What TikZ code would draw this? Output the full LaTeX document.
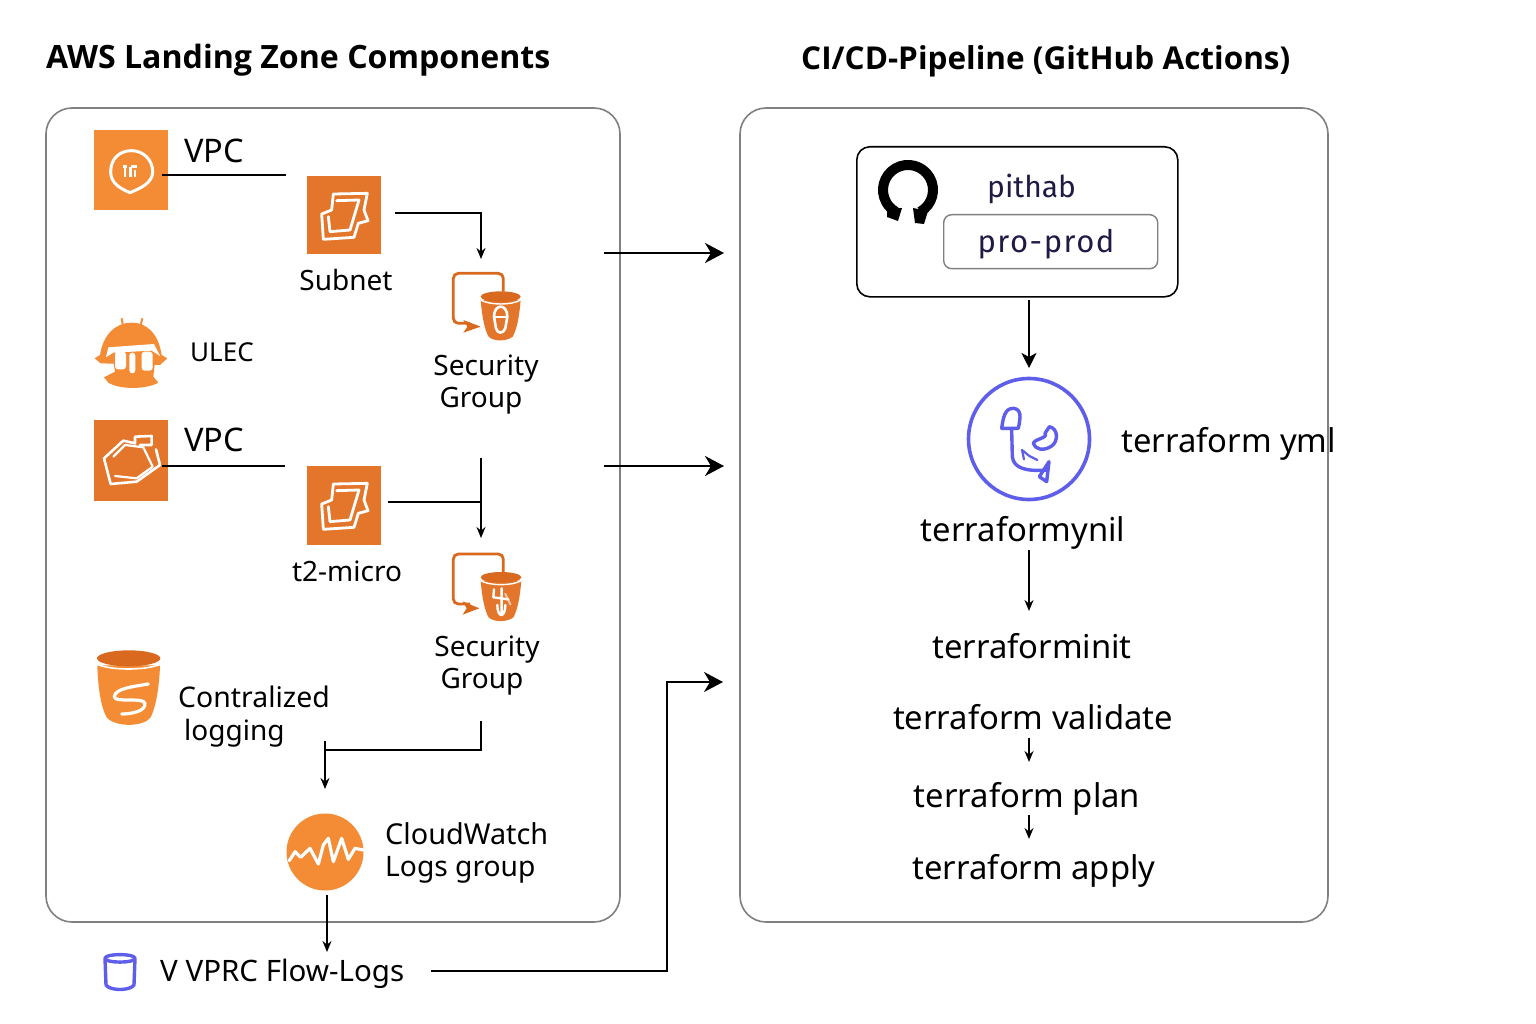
\documentclass[tikz,border=0pt]{standalone}
\usepackage{fontspec}
\setmainfont{Noto Sans}
\newfontfamily\techfont{Fira Sans}
\newfontfamily\headfont{Open Sans}
\usetikzlibrary{arrows.meta}
\definecolor{awsor}{HTML}{F48C35}
\definecolor{awsdk}{HTML}{E4762B}
\definecolor{awsrim}{HTML}{D9691F}
\definecolor{panelgray}{HTML}{808080}
\definecolor{vio}{HTML}{5E5EEB}
\definecolor{navy}{HTML}{1F1B45}
\tikzset{
  x=1pt,y=-1pt,
  panel/.style={draw=panelgray,line width=1.6pt,rounded corners=26pt},
  label/.style={font=\fontsize{28}{32}\selectfont,inner sep=0pt,align=left},
  tflabel/.style={font=\fontsize{32.8}{38}\selectfont,inner sep=0pt},
  heading/.style={font=\headfont\bfseries\fontsize{31.5}{36}\selectfont,inner sep=0pt,anchor=base west},
  thin conn/.style={line width=1.3pt,black},
  arrow conn/.style={line width=1.7pt,black,-{Stealth[length=11pt,width=9pt]}},
  big conn/.style={line width=2.4pt,black,-{Stealth[length=19pt,width=20pt,inset=6pt]}},
  sq/.style={inner sep=0pt,outer sep=0pt,anchor=north west,minimum width=74pt},
  glyph/.style={draw=white,line width=3pt,line join=round,line cap=round},
  vline/.style={draw=vio,line width=3.4pt,line join=round,line cap=round},
  zoomed/.style={shift={#1},scale=1/3},
}
\begin{document}
\begin{tikzpicture}
\useasboundingbox (0,0) rectangle (1536,1024);
\fill[white] (0,0) rectangle (1536,1024);

% headings
\node[heading,font=\headfont\bfseries\fontsize{32.1}{36}\selectfont] (t1) at (46,69) {AWS Landing Zone Components};
\node[heading,font=\headfont\bfseries\fontsize{31.5}{36}\selectfont] (t2) at (801,70) {CI/CD-Pipeline (GitHub Actions)};

% panels
\draw[panel] (46,108) rectangle (620,922);
\draw[panel] (740,108) rectangle (1328,922);

% --- VPC 1
\node[sq,fill=awsor,minimum height=80pt] (vpca) at (94,130) {};
\begin{scope}[zoomed={(80,120)}]
  \draw[glyph] (150,218) .. controls (120,205) and (92,190) .. (92,155) .. controls (92,115) and (120,92) .. (155,92) .. controls (190,92) and (218,120) .. (218,155) .. controls (218,190) and (180,205) .. (150,218) -- cycle;
  \draw[white,line width=2.5pt] (128,140) -- (142,140) (135,140) -- (135,172) (152,140) -- (152,172) (152,140)--(170,140) (165,150)--(165,172);
\end{scope}
\node[label,anchor=base west,font=\fontsize{32.5}{36}\selectfont] (vpcat) at (184,162.5) {VPC};
\coordinate (vpcaend) at (286,175);
\coordinate (vpcastart) at (162,175);

% --- Subnet
\node[sq,fill=awsdk,minimum height=78pt] (subnet) at (307,176) {};
\begin{scope}[zoomed={(290,160)}]
  \draw[glyph,line width=2.8pt] (130,102) -- (232,100) -- (222,150) -- (234,182) -- (205,190) -- (192,232) -- (100,238) -- (95,162) -- (125,150) -- cycle;
  \draw[glyph,line width=2.8pt] (140,122) -- (207,120) -- (180,210) -- (120,215) -- (115,170);
\end{scope}
\node[label] (subnett) at (346,280) {Subnet};
\coordinate (subs) at (395,213);
\coordinate (sube) at (481,259);

% --- Security group 1
\begin{scope}[zoomed={(290,160)}]
  \draw[awsrim,line width=2.8pt,rounded corners=5pt] (640,395) -- (640,340) -- (490,340) -- (490,490) -- (540,490);
  \fill[awsrim] (520,480) -- (572,500) -- (520,518) -- (532,500) -- cycle;
  \fill[awsdk] (572,420) -- (692,420) .. controls (688,470) and (680,510) .. (668,530) .. controls (650,545) and (610,545) .. (596,530) .. controls (584,510) and (576,470) .. (572,420) -- cycle;
  \draw[white,line width=1.4pt] (572,420) .. controls (600,436) and (665,436) .. (692,420);
  \fill[awsrim] (632,410) ellipse [x radius=60,y radius=16];
  \draw[glyph,line width=2.6pt] (612,470) .. controls (612,430) and (652,430) .. (652,470) -- (646,505) .. controls (640,522) and (622,522) .. (618,505) -- cycle;
  \draw[white,line width=2pt] (614,470) -- (650,470);
\end{scope}
\node[label,align=center,font=\fontsize{28}{32}\selectfont] (sgat) at (486,384.5) {Security\\\hspace*{-10pt}Group};

% --- ULEC (helmet)
\begin{scope}[zoomed={(80,120)}]
  \draw[awsor,line width=2pt] (125,595) -- (130,625) (187,595) -- (180,625);
  \fill[awsor] (60,705) .. controls (70,640) and (110,608) .. (155,608) .. controls (200,608) and (235,640) .. (245,705) -- (262,715) -- (240,735) -- (62,730) -- (44,715) -- cycle;
  \fill[awsor] (100,725) -- (225,725) -- (220,770) -- (235,788) .. controls (200,808) and (120,810) .. (85,788) -- (72,772) -- (105,755) -- cycle;
  \fill[white] (85,682) -- (222,672) -- (240,708) -- (215,692) -- (100,698) -- (78,712) -- cycle;
  \fill[white,rounded corners=3pt] (105,695) rectangle (138,748) (148,698) rectangle (166,760) (185,695) rectangle (218,752);
  \fill[awsor] (172,738) circle[radius=5];
\end{scope}
\node[label,anchor=base west,font=\fontsize{26}{30}\selectfont] (ulec) at (190,361) {ULEC};

% --- VPC 2
\node[sq,fill=awsdk,minimum height=81pt] (vpcb) at (94,420) {};
\begin{scope}[zoomed={(80,410)}]
  \draw[glyph,line width=2.6pt] (72,145) -- (130,92) -- (165,100) -- (165,80) -- (215,78) -- (215,105) -- (180,105);
  \draw[glyph,line width=2.6pt] (72,145) -- (92,222) -- (170,215) -- (240,165) -- (228,118);
  \draw[glyph,line width=2.2pt] (100,140) -- (135,105) -- (190,112) -- (218,170) -- (170,205) -- (105,198);
\end{scope}
\node[label,anchor=base west,font=\fontsize{32.5}{36}\selectfont] (vpcbt) at (184,451.5) {VPC};
\coordinate (vpcbend) at (285,466);
\coordinate (vpcbstart) at (162,466);

% --- t2-micro
\node[sq,fill=awsdk,minimum height=79pt] (t2m) at (307,466) {};
\begin{scope}[zoomed={(290,450)}]
  \draw[glyph,line width=2.8pt] (130,102) -- (232,100) -- (222,150) -- (234,182) -- (205,190) -- (192,232) -- (100,238) -- (95,162) -- (125,150) -- cycle;
  \draw[glyph,line width=2.8pt] (140,122) -- (207,120) -- (180,210) -- (120,215) -- (115,170);
\end{scope}
\node[label] (t2t) at (347,571) {t2-micro};
\coordinate (t2s) at (388,502);
\coordinate (t2e) at (481,502);
\coordinate (vs) at (481,458);
\coordinate (ve) at (481,538);

% --- Security group 2
\begin{scope}[zoomed={(440,540)}]
  \draw[awsrim,line width=2.8pt,rounded corners=5pt] (190,100) -- (190,42) -- (40,42) -- (40,192) -- (90,192);
  \fill[awsrim] (68,184) -- (118,205) -- (68,224) -- (80,205) -- cycle;
  \fill[awsdk] (122,122) -- (244,122) .. controls (240,172) and (232,212) .. (220,232) .. controls (202,247) and (160,247) .. (146,232) .. controls (134,212) and (126,172) .. (122,122) -- cycle;
  \draw[white,line width=1.4pt] (122,122) .. controls (150,138) and (215,138) .. (244,122);
  \fill[awsrim] (183,112) ellipse [x radius=61,y radius=16];
  \draw[glyph,line width=2.4pt] (162,148) -- (160,172) -- (205,178) (185,145) -- (185,225) (172,195) .. controls (172,235) and (196,235) .. (196,195);
  \draw[white,line width=2pt,opacity=.6] (195,160) -- (212,195);
\end{scope}
\node[label,align=center,font=\fontsize{28}{32}\selectfont] (sgbt) at (487,665.5) {Security\\\hspace*{-10pt}Group};

% --- Centralized logging bucket
\begin{scope}[zoomed={(80,640)}]
  \fill[awsor] (52,76) -- (240,76) .. controls (238,140) and (228,200) .. (212,232) .. controls (190,262) and (105,262) .. (80,232) .. controls (62,200) and (54,140) .. (52,76) -- cycle;
  \draw[white,line width=1.6pt] (50,72) .. controls (90,92) and (200,92) .. (242,72);
  \fill[awsrim] (146,55) ellipse [x radius=95,y radius=24];
  \draw[glyph,line width=3.2pt] (205,132) .. controls (160,140) and (105,145) .. (103,170) .. controls (103,190) and (190,170) .. (195,190) .. controls (198,215) and (150,222) .. (125,222);
\end{scope}
\node[label,anchor=base west,font=\fontsize{28.4}{32}\selectfont] (logging1) at (178,707) {Contralized};
\node[label,anchor=base west] (logging2) at (184,740) {logging};
\coordinate (sgbs) at (481,721);
\coordinate (lgcorner) at (325,750);
\coordinate (lgstub) at (325,741);
\coordinate (lge) at (325,789);

% --- CloudWatch
\node[circle,fill=awsor,minimum size=77pt,inner sep=0pt] (cw) at (325,852) {};
\begin{scope}[zoomed={(270,800)}]
  \draw[glyph,line width=3.2pt] (58,182) -- (75,155) -- (92,172) -- (120,145) -- (145,192) -- (160,135) -- (175,115) -- (190,185) -- (215,115) -- (235,178) -- (255,145) -- (280,150);
\end{scope}
\node[label,anchor=base west,font=\fontsize{28.8}{32}\selectfont] (cw1) at (385,844) {CloudWatch};
\node[label,anchor=base west,font=\fontsize{28.2}{32}\selectfont] (cw2) at (385,876) {Logs group};
\coordinate (cwe) at (327,952);

% --- Flow logs
\begin{scope}[zoomed={(90,940)}]
  \draw[vline] (45,55) .. controls (45,70) and (135,70) .. (135,55) .. controls (135,40) and (45,40) .. (45,55) -- (48,135) .. controls (60,153) and (120,153) .. (132,135) -- (135,55);
\end{scope}
\node[label,anchor=base west,font=\fontsize{29.5}{34}\selectfont] (flow) at (160,981) {V VPRC Flow-Logs};
\coordinate (flows) at (431,971);
\coordinate (flowc) at (667,971);
\coordinate (flowt) at (667,682);
\coordinate (flowe) at (723,682);

% --- big arrows
\coordinate (b1s) at (604,253);
\coordinate (b1e) at (724,253);
\coordinate (b2s) at (604,466);
\coordinate (b2e) at (724,466);

% --- GitHub box
\node[draw=black,line width=1.6pt,rounded corners=13pt,minimum width=321pt,minimum height=150pt,anchor=north west,inner sep=0pt] (gh) at (856,146) {};
\draw[black,line width=10pt] (920.5,211.6) arc[start angle=60,end angle=-240,radius=25];
\fill[black] (887,209) -- (902,208) -- (898,221) -- (887,217) -- cycle (913,208) -- (928,211) -- (924,224) -- (915,223) -- cycle;
\node[font=\techfont\fontsize{30}{34}\selectfont,text=navy,inner sep=0pt,anchor=base west] (pit) at (987,198) {pithab};
\node[draw=panelgray,line width=1.4pt,rounded corners=8pt,minimum width=214pt,minimum height=54pt,anchor=north west,inner sep=0pt] (prod) at (943,214) {};
\node[font=\techfont\fontsize{31}{34}\selectfont,text=navy,inner sep=0pt,anchor=base] (prodt) at (1046,253) {\addfontfeature{LetterSpace=5}pro-prod};
\coordinate (ghs) at (1029,300);
\coordinate (ghe) at (1029,368);

% --- terraform circle
\node[circle,draw=vio,line width=3.6pt,minimum size=121pt,inner sep=0pt] (tf) at (1029,439) {};
\begin{scope}[zoomed={(950,370)}]
  \draw[vline] (155,175) .. controls (160,140) and (165,115) .. (190,115) .. controls (215,118) and (212,140) .. (205,175) -- cycle;
  \draw[vline] (185,180) -- (187,260) .. controls (190,295) and (230,305) .. (290,300);
  \draw[vline] (297,275) -- (268,320) -- (290,335) -- cycle;
  \draw[vline] (298,170) .. controls (325,175) and (325,215) .. (305,228) .. controls (280,245) and (255,238) .. (250,220) .. controls (255,205) and (295,205) .. (285,190) -- cycle;
  \draw[vline,line width=2.2pt] (222,268) -- (216,240) -- (238,258) -- (262,270);
\end{scope}
\node[tflabel,anchor=base west] (yml) at (1121,452) {terraform yml};
\node[tflabel] (ynil) at (1023,533) {terraformynil};
\coordinate (s1) at (1029,550);
\coordinate (e1) at (1029,611);
\node[tflabel] (init) at (1032,646) {terraforminit};
\node[tflabel] (valid) at (1033,717) {terraform validate};
\coordinate (s2) at (1029,738);
\coordinate (e2) at (1029,762);
\node[tflabel] (plan) at (1027,799) {terraform plan};
\coordinate (s3) at (1029,815);
\coordinate (e3) at (1029,839);
\node[tflabel] (apply) at (1034,871) {terraform apply};

% --- connectors
\draw[thin conn] (vpcastart) -- (vpcaend);
\draw[thin conn] (vpcbstart) -- (vpcbend);
\draw[thin conn] (t2s) -- (t2e);
\draw[arrow conn] (subs) -| (sube);
\draw[arrow conn] (vs) -- (ve);
\draw[thin conn,line width=1.6pt] (sgbs) |- (lgcorner);
\draw[arrow conn] (lgstub) -- (lge);
\coordinate (cws) at (327,895);
\draw[arrow conn] (cws) -- (cwe);
\draw[big conn] (b1s) -- (b1e);
\draw[big conn] (b2s) -- (b2e);
\draw[big conn,line width=1.8pt] (flows) -- (flowc) -- (flowt) -- (flowe);
\draw[arrow conn,line width=2.4pt,-{Stealth[length=15pt,width=15pt,inset=4pt]}] (ghs) -- (ghe);
\draw[arrow conn] (s1) -- (e1);
\draw[arrow conn] (s2) -- (e2);
\draw[arrow conn] (s3) -- (e3);
\end{tikzpicture}
\end{document}
